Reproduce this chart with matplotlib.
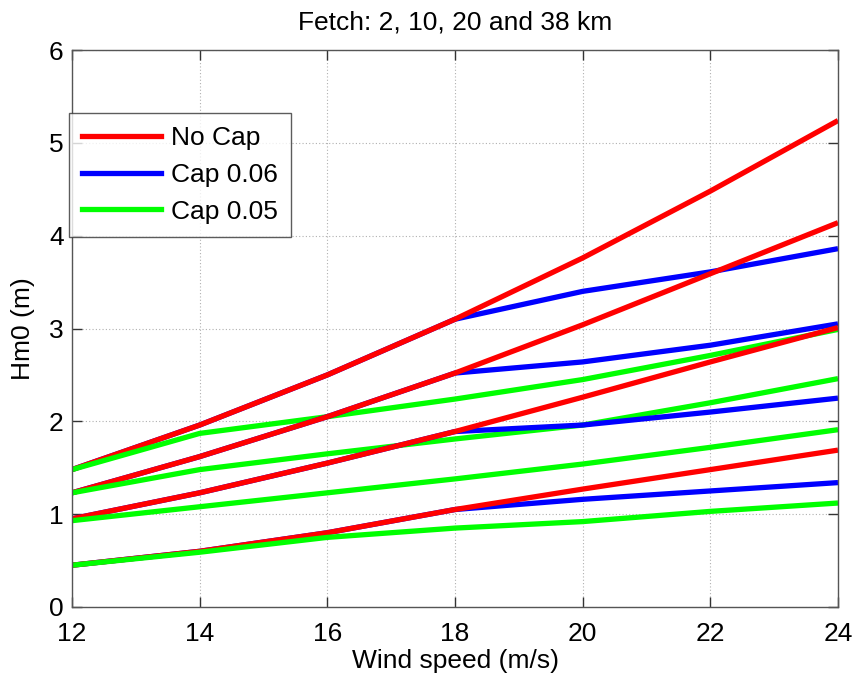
import matplotlib
matplotlib.use("Agg")
import matplotlib.pyplot as plt
from matplotlib.lines import Line2D

wind = [12, 14, 16, 18, 20, 22, 24]

# Fetch 38 km
nocap_38 = [1.48, 1.96, 2.50, 3.10, 3.76, 4.48, 5.24]
cap06_38 = [1.48, 1.96, 2.50, 3.10, 3.40, 3.61, 3.86]
cap05_38 = [1.48, 1.87, 2.05, 2.24, 2.45, 2.71, 2.99]
# Fetch 20 km
nocap_20 = [1.23, 1.62, 2.05, 2.52, 3.04, 3.59, 4.14]
cap06_20 = [1.23, 1.62, 2.05, 2.52, 2.64, 2.82, 3.05]
cap05_20 = [1.23, 1.48, 1.65, 1.81, 1.96, 2.20, 2.46]
# Fetch 10 km
nocap_10 = [0.95, 1.23, 1.55, 1.89, 2.26, 2.64, 3.01]
cap06_10 = [0.95, 1.23, 1.55, 1.89, 1.96, 2.10, 2.25]
cap05_10 = [0.93, 1.08, 1.23, 1.38, 1.54, 1.72, 1.91]
# Fetch 2 km
nocap_2 = [0.45, 0.60, 0.80, 1.05, 1.27, 1.48, 1.69]
cap06_2 = [0.45, 0.60, 0.80, 1.05, 1.16, 1.25, 1.34]
cap05_2 = [0.45, 0.59, 0.75, 0.85, 0.92, 1.03, 1.12]

series = [
    (cap06_38, nocap_38, cap05_38),
    (cap06_20, nocap_20, cap05_20),
    (cap06_10, nocap_10, cap05_10),
    (cap06_2, nocap_2, cap05_2),
]
labels = ["No Cap", "Cap 0.06", "Cap 0.05"]
xticks = [12, 14, 16, 18, 20, 22, 24]
yticks = [0, 1, 2, 3, 4, 5, 6]

RED, BLUE, GREEN = "#ff0000", "#0000ff", "#00ff00"
FS = 19
plt.rcParams["font.family"] = ["Liberation Sans", "DejaVu Sans"]

fig = plt.figure(figsize=(8.55, 6.8), dpi=100)
ax = fig.add_axes([72/855, 1-607/680, (838-72)/855, (607-50)/680])
lw = 3.8
for b, r, g in series:
    ax.plot(wind, b, color=BLUE, lw=lw, solid_capstyle="butt")
    ax.plot(wind, r, color=RED, lw=lw, solid_capstyle="butt")
    ax.plot(wind, g, color=GREEN, lw=lw, solid_capstyle="butt")

ax.set_xlim(12, 24)
ax.set_ylim(0, 6)
ax.set_xticks(xticks)
ax.set_yticks(yticks)
ax.tick_params(direction="in", length=7, width=1, top=True, right=True,
               labelsize=FS, color="#333333")
ax.tick_params(axis="x", pad=11)
ax.tick_params(axis="y", pad=6)
ax.grid(True, color="#b0b0b0", linestyle=(0, (1, 2)), linewidth=0.8)
for s in ax.spines.values():
    s.set_color("#555555")
    s.set_linewidth(1)

ax.set_xlabel("Wind speed (m/s)", fontsize=FS, labelpad=2)
ax.set_ylabel("Hm0 (m)", fontsize=FS, labelpad=10)
ax.set_title("Fetch: 2, 10, 20 and 38 km", fontsize=FS, pad=15)

handles = [Line2D([], [], color=c, lw=lw) for c in (RED, BLUE, GREEN)]
leg = fig.legend(handles, labels, loc="upper left",
                 bbox_to_anchor=(69/855, 1-113/680), fontsize=FS,
                 frameon=True, fancybox=False, borderaxespad=0,
                 handlelength=3.0, handletextpad=0.35, labelspacing=0.48,
                 borderpad=0.5, edgecolor="#333333")
leg.get_frame().set_linewidth(1)

fig.savefig("out.png", dpi=100)
